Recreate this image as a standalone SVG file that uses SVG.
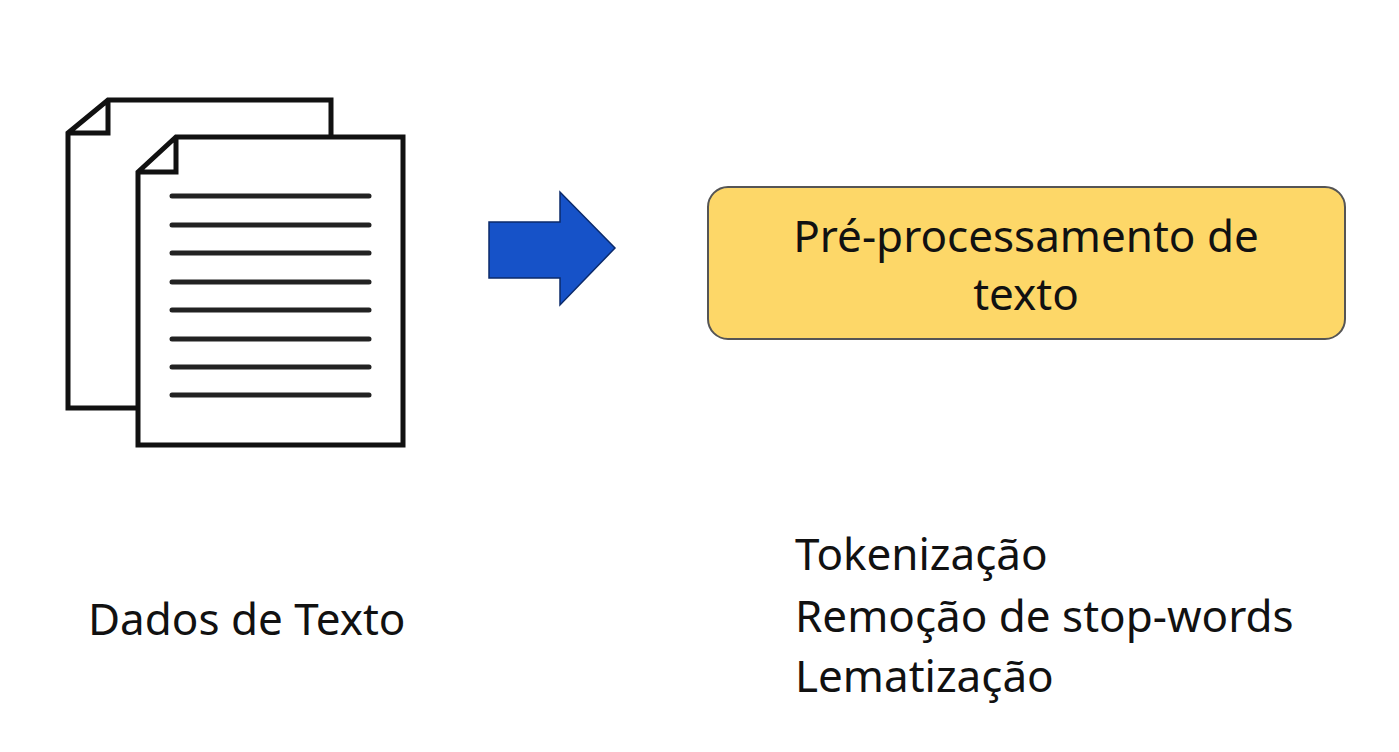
<svg xmlns="http://www.w3.org/2000/svg" width="1399" height="752" viewBox="0 0 1399 752">
<style>
.doc{fill:#fff;stroke:#111;stroke-width:5;stroke-linejoin:miter}
.ln{stroke:#222;stroke-width:5;stroke-linecap:round}
.t{font-family:"Noto Sans","Open Sans",sans-serif;font-size:44px;fill:#111}
</style>
<rect width="1399" height="752" fill="#fff"/>
<g id="docs">
<path class="doc" d="M108,100 H331 V408 H68 V133 Z M68,133 H108 V100"/>
<path class="doc" d="M176,137 H403 V445 H138 V172 Z M138,172 H176 V137"/>
<g class="ln">
<line x1="172" y1="196" x2="369" y2="196"/><line x1="172" y1="225" x2="369" y2="225"/>
<line x1="172" y1="253" x2="369" y2="253"/><line x1="172" y1="282" x2="369" y2="282"/>
<line x1="172" y1="310" x2="369" y2="310"/><line x1="172" y1="339" x2="369" y2="339"/>
<line x1="172" y1="367" x2="369" y2="367"/><line x1="172" y1="395" x2="369" y2="395"/>
</g>
</g>
<g id="connectors">
<polygon points="489,222 560,222 560,192 615,248 560,305 560,278 489,278" fill="#1652c8" stroke="#0b2a6a" stroke-width="1.5"/>
</g>
<g id="box">
<rect x="708" y="187" width="637" height="152" rx="20" fill="#fdd768" stroke="#555" stroke-width="2"/>
<text class="t" x="1026" y="252" text-anchor="middle">Pré-processamento de</text>
<text class="t" x="1026" y="310" text-anchor="middle">texto</text>
</g>
<g id="label-dados"><text class="t" x="88" y="635">Dados de Texto</text></g>
<g id="label-steps">
<text class="t" x="795" y="570">Tokenização</text>
<text class="t" x="795" y="632">Remoção de stop-words</text>
<text class="t" x="795" y="692">Lematização</text>
</g>
</svg>
